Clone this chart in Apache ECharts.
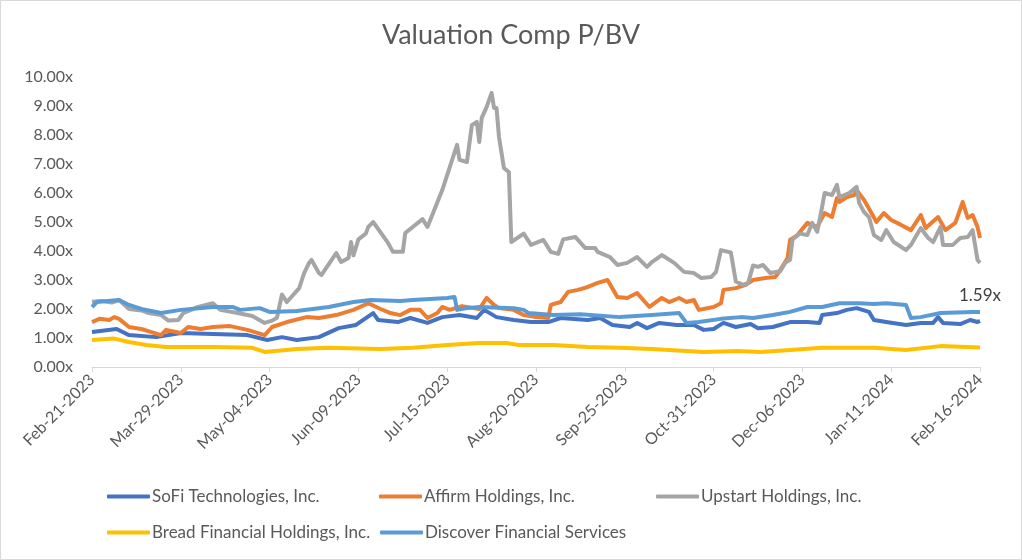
<!DOCTYPE html>
<html><head><meta charset="utf-8">
<script src="https://cdn.jsdelivr.net/npm/echarts@6/dist/echarts.min.js"></script>
<style>html,body{margin:0;padding:0;background:#fff}#c{width:1022px;height:560px}</style>
</head><body><div id="c"></div>
<script>
// x values are days since the first date (Feb-21-2023)
const startDate = Date.UTC(2023, 1, 21);
const axisMaxDays = 360; // Feb-16-2024
const tickStepDays = 36;
const yTicks = [0, 10, 1]; // min, max, step
const seriesNames = ['SoFi Technologies, Inc.', 'Affirm Holdings, Inc.', 'Upstart Holdings, Inc.', 'Bread Financial Holdings, Inc.', 'Discover Financial Services'];

const sofi = [[0,1.21],[10,1.31],[15,1.1],[26,1.03],[36,1.17],[49,1.14],[63,1.1],[71,0.93],[77,1.03],[83,0.93],[92,1.03],[100,1.34],[107,1.45],[114,1.86],[116,1.62],[124,1.55],[129,1.69],[136,1.52],[142,1.72],[149,1.79],[156,1.69],[159,1.97],[164,1.72],[171,1.62],[178,1.55],[185,1.55],[190,1.69],[201,1.62],[206,1.69],[211,1.45],[218,1.38],[221,1.52],[225,1.34],[230,1.52],[237,1.45],[244,1.45],[248,1.28],[252,1.31],[256,1.52],[261,1.38],[267,1.48],[270,1.34],[276,1.38],[283,1.55],[290,1.55],[295,1.52],[296,1.79],[302,1.86],[306,1.97],[310,2.03],[315,1.9],[317,1.62],[322,1.55],[330,1.45],[336,1.52],[341,1.52],[343,1.72],[345,1.52],[352,1.48],[356,1.62],[359,1.55],[360,1.59]];

const affirm = [[0,1.55],[3,1.66],[7,1.62],[9,1.72],[11,1.66],[15,1.38],[20,1.31],[28,1.1],[30,1.28],[36,1.17],[39,1.38],[44,1.31],[49,1.38],[56,1.41],[63,1.28],[70,1.1],[73,1.38],[79,1.55],[87,1.72],[92,1.69],[99,1.79],[106,1.97],[112,2.2],[117,2.0],[121,1.86],[125,1.79],[129,1.97],[133,1.97],[136,1.69],[140,1.86],[142,2.07],[145,1.97],[150,2.1],[157,2.0],[160,2.38],[163,2.14],[165,2.03],[171,1.97],[175,1.79],[180,1.72],[185,1.69],[186,2.14],[190,2.24],[193,2.59],[197,2.66],[201,2.76],[205,2.9],[209,3.0],[213,2.41],[217,2.38],[221,2.55],[226,2.07],[231,2.38],[234,2.24],[238,2.38],[241,2.24],[244,2.31],[246,1.97],[252,2.07],[255,2.2],[256,2.66],[261,2.72],[265,2.83],[268,3.0],[273,3.07],[277,3.1],[279,3.34],[282,3.76],[283,4.38],[286,4.55],[290,4.97],[294,4.83],[297,5.31],[300,5.17],[302,5.83],[303,5.69],[306,5.86],[309,5.93],[310,6.1],[313,5.76],[316,5.31],[318,5.0],[321,5.31],[324,5.07],[328,4.9],[332,4.72],[336,5.24],[338,4.79],[343,5.17],[346,4.72],[350,4.97],[353,5.69],[355,5.14],[357,5.24],[359,4.83],[360,4.45]];

const upstart = [[0,2.25],[4,2.28],[8,2.22],[11,2.31],[15,2.0],[20,1.95],[23,1.86],[28,1.79],[31,1.6],[35,1.62],[37,1.86],[43,2.07],[49,2.2],[52,1.97],[59,1.86],[65,1.76],[70,1.52],[73,1.6],[75,1.7],[77,2.5],[79,2.24],[84,2.72],[86,3.24],[88,3.59],[89,3.69],[92,3.24],[93,3.17],[99,3.93],[101,3.62],[104,3.76],[105,4.31],[106,3.85],[108,4.4],[111,4.6],[112,4.83],[114,5.0],[120,4.28],[122,3.97],[126,3.97],[127,4.62],[134,5.1],[136,4.83],[142,6.1],[146,7.14],[148,7.66],[149,7.14],[152,7.07],[154,8.34],[156,8.45],[157,7.76],[158,8.59],[160,8.97],[162,9.45],[163,8.93],[164,8.93],[165,7.93],[167,6.86],[169,6.72],[170,4.31],[175,4.6],[178,4.21],[183,4.38],[186,3.97],[189,3.9],[191,4.4],[196,4.48],[200,4.1],[204,4.1],[205,3.97],[210,3.79],[213,3.52],[217,3.59],[221,3.79],[225,3.45],[227,3.62],[231,3.86],[236,3.59],[240,3.28],[244,3.24],[247,3.07],[251,3.1],[253,3.28],[255,4.03],[259,3.95],[261,2.95],[264,2.83],[266,2.9],[268,3.5],[270,3.45],[272,3.52],[275,3.24],[279,3.3],[281,3.59],[283,3.7],[284,4.4],[287,4.6],[290,4.55],[292,4.97],[294,4.66],[296,5.52],[297,6.0],[300,5.93],[302,6.28],[303,5.86],[307,6.0],[310,6.21],[311,5.66],[313,5.34],[315,5.17],[317,4.55],[320,4.38],[322,4.72],[325,4.31],[330,4.03],[332,4.21],[336,4.79],[339,4.45],[341,4.31],[344,4.83],[345,4.21],[349,4.21],[352,4.45],[355,4.48],[357,4.72],[359,3.69],[360,3.59]];

const bread = [[0,0.93],[9,0.98],[15,0.86],[22,0.76],[30,0.69],[43,0.69],[49,0.69],[65,0.66],[70,0.52],[83,0.62],[96,0.66],[117,0.62],[130,0.66],[144,0.76],[157,0.83],[168,0.83],[173,0.76],[187,0.76],[201,0.69],[214,0.66],[227,0.62],[248,0.52],[262,0.55],[271,0.52],[283,0.59],[296,0.66],[317,0.66],[330,0.59],[344,0.72],[360,0.67]];

const discover = [[0,2.07],[2,2.24],[11,2.31],[15,2.14],[20,2.0],[28,1.86],[36,1.97],[49,2.07],[57,2.07],[60,1.97],[68,2.03],[72,1.9],[83,1.93],[96,2.07],[106,2.24],[113,2.31],[125,2.28],[130,2.31],[144,2.38],[147,2.41],[148,1.97],[152,2.03],[157,2.07],[171,2.03],[175,1.97],[177,1.86],[187,1.79],[198,1.82],[214,1.72],[227,1.79],[238,1.86],[241,1.52],[246,1.55],[255,1.66],[263,1.72],[268,1.69],[276,1.79],[283,1.9],[290,2.07],[296,2.07],[303,2.2],[311,2.2],[317,2.17],[322,2.2],[330,2.14],[332,1.69],[336,1.72],[344,1.86],[357,1.9],[360,1.9]];

const seriesData = [sofi, affirm, upstart, bread, discover];
const colors = ['#4472C4', '#ED7D31', '#A5A5A5', '#FFC000', '#5B9BD5'];

const FONT = 'Lato';
const MONTHS = ['Jan','Feb','Mar','Apr','May','Jun','Jul','Aug','Sep','Oct','Nov','Dec'];
function dayLabel(d) {
  const dt = new Date(startDate + d * 86400000);
  const dd = String(dt.getUTCDate()).padStart(2, '0');
  return MONTHS[dt.getUTCMonth()] + '-' + dd + '-' + dt.getUTCFullYear();
}

const legendPos = [[107, 488], [379, 488], [656, 488], [107, 524], [380, 524]];
const lastSofi = sofi[sofi.length - 1];

const chart = echarts.init(document.getElementById('c'));
chart.setOption({
  backgroundColor: '#fff',
  animation: false,
  textStyle: { fontFamily: FONT },
  title: {
    text: 'Valuation Comp P/BV', left: 'center', top: 17,
    textStyle: { fontFamily: FONT, fontSize: 27, fontWeight: 'normal', color: '#595959' }
  },
  graphic: [{
    type: 'rect', shape: { x: 0.5, y: 0.5, width: 1021, height: 559 },
    style: { fill: 'none', stroke: '#d9d9d9', lineWidth: 1 }, silent: true
  }],
  legend: seriesNames.map((n, i) => ({
    data: [n], left: legendPos[i][0], top: legendPos[i][1], orient: 'horizontal',
    icon: 'roundRect', itemWidth: 43, itemHeight: 4,
    padding: 0,
    textStyle: { fontFamily: FONT, fontSize: 17, color: '#595959', padding: [0, 0, 0, -3] }
  })),
  grid: { left: 92, right: 42, top: 77, bottom: 193 },
  xAxis: {
    type: 'value', min: 0, max: axisMaxDays, interval: tickStepDays,
    axisLine: { show: true, lineStyle: { color: '#d9d9d9', width: 1 } },
    axisTick: { show: true, length: 5, lineStyle: { color: '#d9d9d9' } },
    splitLine: { show: false },
    axisLabel: {
      rotate: 45, fontFamily: FONT, fontSize: 16, color: '#595959', margin: 10,
      showMinLabel: true, showMaxLabel: true,
      formatter: v => dayLabel(v)
    }
  },
  yAxis: {
    type: 'value', min: yTicks[0], max: yTicks[1], interval: yTicks[2],
    axisLine: { show: false }, axisTick: { show: false }, splitLine: { show: false },
    axisLabel: { fontFamily: FONT, fontSize: 16, color: '#595959', margin: 19, formatter: v => v.toFixed(2) + 'x' }
  },
  series: seriesNames.map((n, i) => {
    const s = {
      name: n, type: 'line', symbol: 'none', showSymbol: false,
      color: colors[i],
      lineStyle: { width: 4, color: colors[i], join: 'round' },
      data: seriesData[i]
    };
    if (i === 0) {
      s.markPoint = {
        symbol: 'circle', symbolSize: 1, silent: true,
        itemStyle: { color: 'rgba(0,0,0,0)' },
        data: [{ coord: lastSofi, value: lastSofi[1] }],
        label: { show: true, position: 'top', distance: 16, fontFamily: FONT, fontSize: 17, color: '#404040',
          formatter: q => Number(q.value).toFixed(2) + 'x' }
      };
    }
    return s;
  })
});
</script></body></html>
